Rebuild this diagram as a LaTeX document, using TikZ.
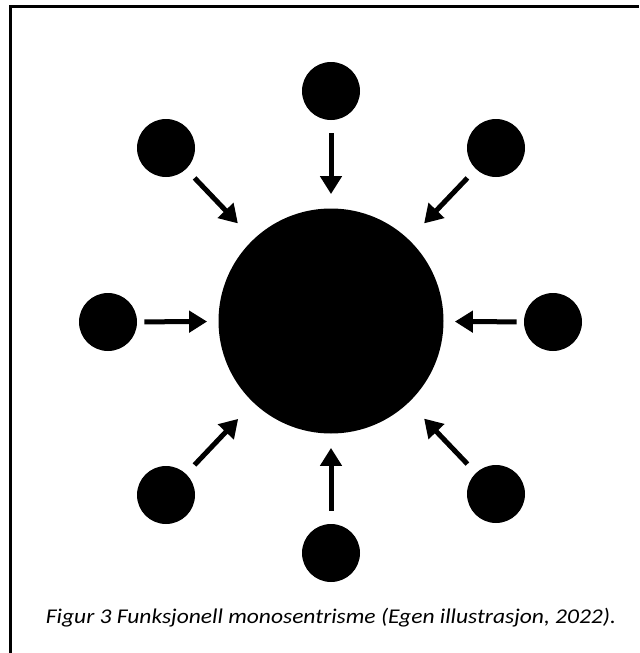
\documentclass[tikz,border=0pt]{standalone}
\usepackage{fontspec}
\usepackage{graphicx}
\setmainfont{Carlito}
\usetikzlibrary{arrows.meta}
\tikzstyle{hub} = [circle, fill=black, inner sep=0pt, minimum size=112.5pt]
\tikzstyle{satellite} = [circle, fill=black, inner sep=0pt, minimum size=29pt]
\tikzstyle{flowArrow} = [line width=2.5pt, -{Triangle[length=9pt,width=10.5pt]}]
\tikzstyle{straightFlow} = [flowArrow, shorten <=6.5pt, shorten >=7pt]
\tikzstyle{sideFlow} = [flowArrow, shorten <=3.5pt, shorten >=5.5pt]
\tikzstyle{diagonalFlow} = [flowArrow, shorten <=6pt, shorten >=11pt]
\tikzstyle{frameLine} = [line width=1.5pt]
\tikzstyle{captionText} = [font=\fontsize{10.5}{12}\selectfont\itshape]

\begin{document}
\begin{tikzpicture}[x=0.5pt, y=-0.5pt]
  \useasboundingbox (0,0) rectangle (639,653);
  \draw [frameLine] (10.5,653) -- (10.5,6.5) -- (639,6.5);

  \node [hub] (hub) at (331,321) {};

  \node [satellite] (north) at (331,91) {};
  \node [satellite] (south) at (331,553) {};
  \node [satellite] (west) at (108,322) {};
  \node [satellite] (east) at (553,322) {};
  \node [satellite] (northwest) at (166,148) {};
  \node [satellite] (northeast) at (496,148) {};
  \node [satellite] (southwest) at (166,495) {};
  \node [satellite] (southeast) at (496,494) {};

  \foreach \from in {north,south} {
    \draw [straightFlow] (\from) -- (hub);
  }
  \foreach \from in {west,east} {
    \draw [sideFlow] (\from) -- (hub);
  }
  \foreach \from in {northwest,northeast,southwest,southeast} {
    \draw [diagonalFlow] (\from) -- (hub);
  }

  \node [captionText] (caption) at (331,618) {\scalebox{1.12}[1]{Figur 3 Funksjonell monosentrisme (Egen illustrasjon, 2022).}};
\end{tikzpicture}
\end{document}
